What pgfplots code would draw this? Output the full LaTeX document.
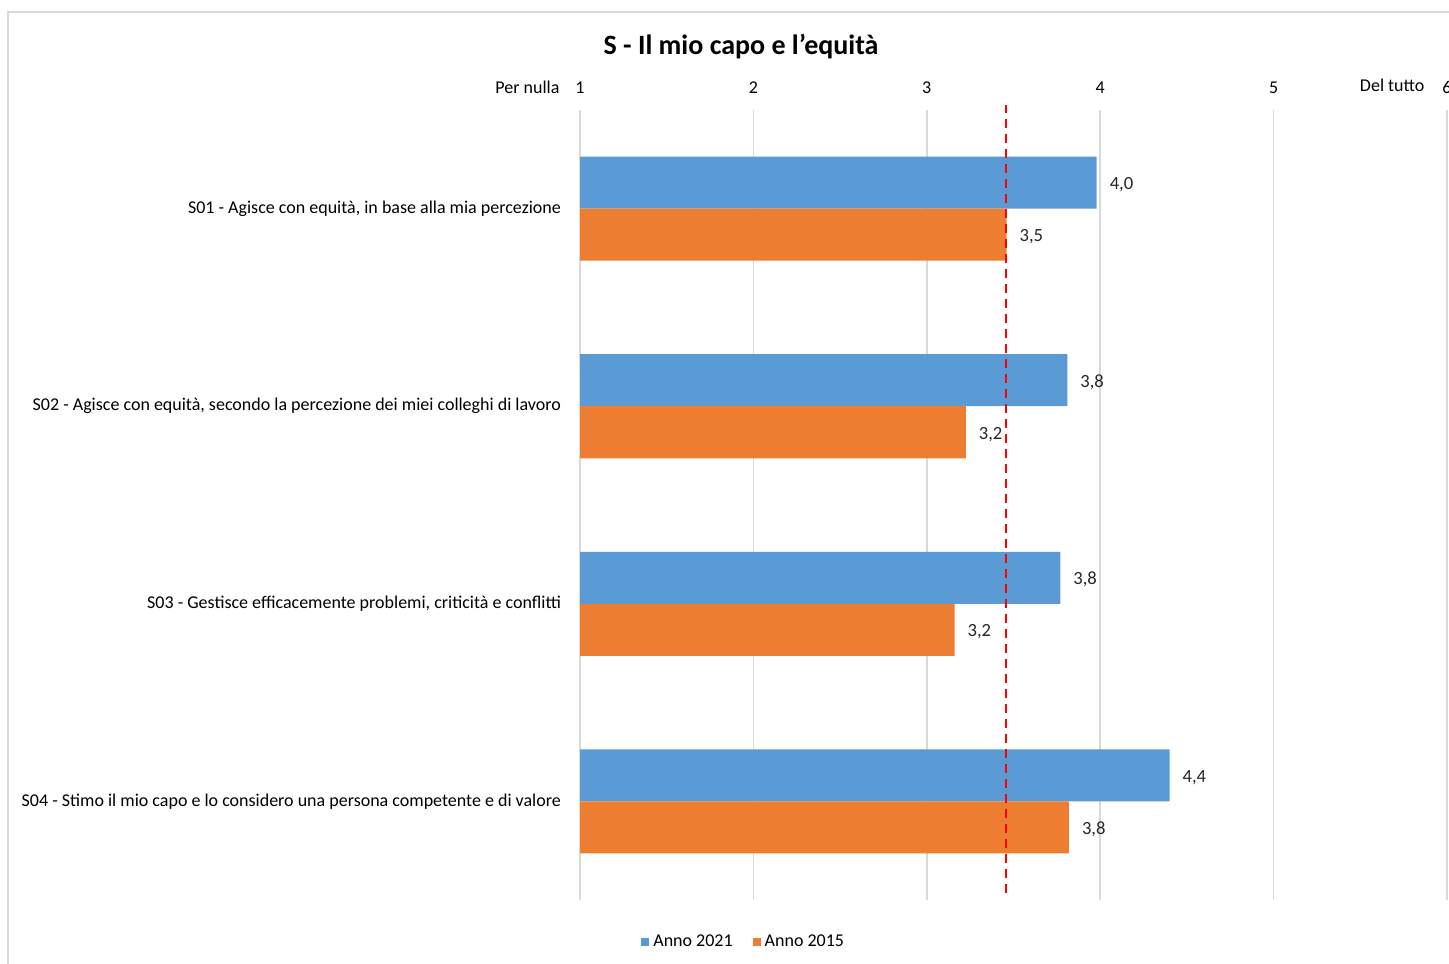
\documentclass[border=0pt]{standalone}
\usepackage{pgfplots}
\pgfplotsset{compat=1.18}
\usepackage{fontspec}
\setmainfont{Carlito}
\definecolor{cblue}{HTML}{5B9BD5}
\definecolor{corange}{HTML}{ED7D31}
\definecolor{cgrid}{HTML}{D9D9D9}
\begin{document}
\begin{tikzpicture}
\path[use as bounding box] (0,0) rectangle (724.5pt,481.5pt);
\draw[cgrid, line width=1pt] (4pt,-2pt) -- (4pt,475.5pt) -- (730pt,475.5pt);
\node[font=\fontsize{14}{16}\selectfont\bfseries] at (370.5pt,458pt) {S - Il mio capo e l’equità};
\begin{axis}[
  at={(290pt,31.5pt)}, anchor=south west,
  scale only axis, width=433.5pt, height=395pt,
  xbar, bar width=26pt,
  xmin=1, xmax=6, ymin=-0.5, ymax=3.5,
  axis line style={draw=none},
  major tick length=0pt,
  xtick={1,2,3,4,5,6},
  xticklabels={{\llap{Per nulla\hspace{8pt}}1},2,3,4,5,{\llap{\raisebox{1pt}{Del tutto}\hspace{9pt}}6}},
  xticklabel pos=upper,
  xticklabel style={font=\fontsize{9}{11}\selectfont, yshift=4.5pt},
  xmajorgrids, grid style={cgrid, line width=0.75pt},
  ytick={0,1,2,3},
  yticklabels={{S04 - Stimo il mio capo e lo considero una persona competente e di valore},
               {S03 - Gestisce efficacemente problemi, criticità e conflitti},
               {S02 - Agisce con equità, secondo la percezione dei miei colleghi di lavoro},
               {S01 - Agisce con equità, in base alla mia percezione}},
  yticklabel style={font=\fontsize{9}{11}\selectfont, anchor=east, xshift=-6pt},
  /pgf/number format/assume math mode=true,
  point meta=x,
  nodes near coords={\pgfmathprintnumber[fixed,fixed zerofill,precision=1,use comma]{\pgfplotspointmeta}},
  nodes near coords style={font=\fontsize{9.3}{11}\selectfont, anchor=west, xshift=3pt, yshift=-1pt, text=black!85},
  legend style={at={(0.19,-0.0531)}, anchor=center, draw=none, legend columns=2,
    font=\fontsize{9}{11}\selectfont, /tikz/every even column/.append style={column sep=8pt}},
  legend image code/.code={\fill[#1] (0pt,-2pt) rectangle (4pt,2pt);},
  clip=false,
]
\addplot[fill=cblue, draw=none, bar shift=13pt] coordinates {(3.98,3) (3.81,2) (3.77,1) (4.40,0)};
\addlegendentry{Anno 2021}
\addplot[fill=corange, draw=none, bar shift=-13pt] coordinates {(3.46,3) (3.225,2) (3.16,1) (3.82,0)};
\addlegendentry{Anno 2015}
\addplot[red, line width=1pt, dash pattern=on 4.5pt off 3pt, forget plot, nodes near coords={}, sharp plot] coordinates {(3.458,-0.465) (3.458,3.525)};
\end{axis}
\end{tikzpicture}
\end{document}
